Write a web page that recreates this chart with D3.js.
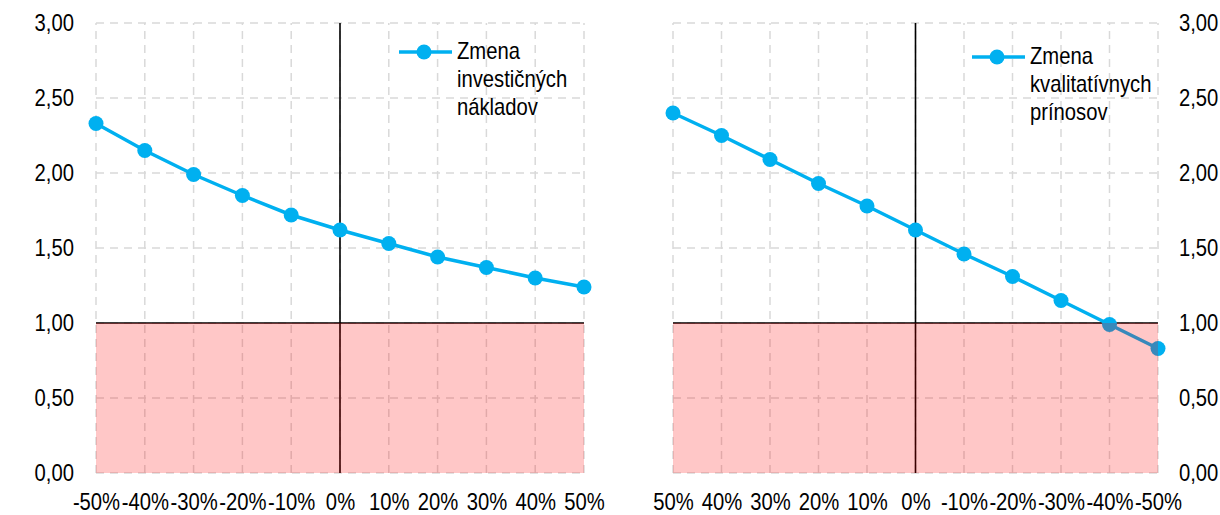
<!DOCTYPE html>
<html>
<head>
<meta charset="utf-8">
<script src="https://cdn.jsdelivr.net/npm/d3@7"></script>
<style>
  html, body { margin: 0; padding: 0; background: #fff; }
  svg { display: block; }
  text { font-family: "Liberation Sans", Arial, sans-serif; fill: #000; }
</style>
</head>
<body>
<svg id="chart" width="1220" height="515"></svg>
<script>
// ---- data ----
const leftCategories = ["-50%", "-40%", "-30%", "-20%", "-10%", "0%", "10%", "20%", "30%", "40%", "50%"];
const leftValues = [2.33, 2.15, 1.99, 1.85, 1.72, 1.62, 1.53, 1.44, 1.37, 1.30, 1.24];
const leftLegend = ["Zmena", "investičných", "nákladov"];

const rightCategories = ["50%", "40%", "30%", "20%", "10%", "0%", "-10%", "-20%", "-30%", "-40%", "-50%"];
const rightValues = [2.40, 2.25, 2.09, 1.93, 1.78, 1.62, 1.46, 1.31, 1.15, 0.99, 0.83];
const rightLegend = ["Zmena", "kvalitatívnych", "prínosov"];

const yTicks = [0, 0.5, 1, 1.5, 2, 2.5, 3];
const threshold = 1;
const zeroCategory = "0%";

// ---- style ----
const FS = 23, SX = 0.88;
const lineColor = "#00B0F0";
const gridColor = "#D9D9D9";
const fmt = d => d3.format(".2f")(d).replace(".", ",");

const svg = d3.select("#chart");

function panel(opts) {
  const x = d3.scalePoint().domain(opts.cats).range(opts.xRange);
  const y = d3.scaleLinear().domain([0, 3]).range([473, 23]);
  const g = svg.append("g");
  const [x0, x1] = opts.xRange;

  // gridlines
  g.append("g").selectAll("line.h").data(yTicks).join("line")
    .attr("x1", x0).attr("x2", x1)
    .attr("y1", d => y(d)).attr("y2", d => y(d))
    .attr("stroke", gridColor).attr("stroke-width", 1.5).attr("stroke-dasharray", "8,6");
  g.append("g").selectAll("line.v").data(opts.cats).join("line")
    .attr("x1", d => x(d)).attr("x2", d => x(d))
    .attr("y1", y(0)).attr("y2", y(3))
    .attr("stroke", gridColor).attr("stroke-width", 1.5).attr("stroke-dasharray", "8,6");

  // zero vertical line
  g.append("line")
    .attr("x1", x(zeroCategory)).attr("x2", x(zeroCategory))
    .attr("y1", y(0)).attr("y2", y(3))
    .attr("stroke", "#000").attr("stroke-width", 1.6);
  // threshold line
  g.append("line")
    .attr("x1", x0).attr("x2", x1)
    .attr("y1", y(threshold)).attr("y2", y(threshold))
    .attr("stroke", "#000").attr("stroke-width", 1.6);

  // series
  const pts = opts.cats.map((c, i) => ({ c, v: opts.values[i] }));
  g.append("path").datum(pts)
    .attr("fill", "none").attr("stroke", lineColor).attr("stroke-width", 3.5)
    .attr("d", d3.line().x(d => x(d.c)).y(d => y(d.v)));
  g.append("g").selectAll("circle").data(pts).join("circle")
    .attr("cx", d => x(d.c)).attr("cy", d => y(d.v)).attr("r", 7.5)
    .attr("fill", lineColor);

  // red zone overlay
  g.append("rect")
    .attr("x", x0).attr("width", x1 - x0)
    .attr("y", y(threshold)).attr("height", y(0) - y(threshold))
    .attr("fill", "rgb(255,0,0)").attr("fill-opacity", 0.22);

  // x axis
  const xa = g.append("g").attr("transform", `translate(0,${y(0)})`)
    .call(d3.axisBottom(x).tickSize(0).tickPadding(21));
  xa.select(".domain").remove();
  xa.selectAll("text").attr("font-size", FS).attr("font-family", null)
    .attr("transform", `scale(${SX},1)`).style("fill", "#000");

  // y axis
  if (opts.side === "left") {
    const ya = g.append("g").attr("transform", `translate(${x0},0)`)
      .call(d3.axisLeft(y).tickValues(yTicks).tickFormat(fmt).tickSize(0));
    ya.select(".domain").remove();
    ya.selectAll("text").attr("font-size", FS).attr("font-family", null)
      .attr("x", -22 / SX).attr("transform", `scale(${SX},1)`).style("fill", "#000");
  } else {
    const ya = g.append("g").attr("transform", `translate(${x1},0)`)
      .call(d3.axisRight(y).tickValues(yTicks).tickFormat(fmt).tickSize(0));
    ya.select(".domain").remove();
    ya.selectAll("text").attr("font-size", FS).attr("font-family", null)
      .attr("x", 21 / SX).attr("transform", `scale(${SX},1)`).style("fill", "#000");
  }

  // legend
  const lg = g.append("g").attr("transform", `translate(${opts.legend.x},${opts.legend.y})`);
  lg.append("line").attr("x1", 0).attr("x2", 53).attr("y1", 0).attr("y2", 0)
    .attr("stroke", lineColor).attr("stroke-width", 3.5);
  lg.append("circle").attr("cx", 25).attr("cy", 0).attr("r", 7.5).attr("fill", lineColor);
  lg.selectAll("text").data(opts.legendLines).join("text")
    .attr("transform", (d, i) => `translate(58,${7 + i * 28}) scale(${SX},1)`)
    .attr("font-size", FS)
    .text(d => d);
}

panel({ cats: leftCategories, values: leftValues, xRange: [96, 584], side: "left",
        legend: { x: 399, y: 52 }, legendLines: leftLegend });
panel({ cats: rightCategories, values: rightValues, xRange: [673, 1158], side: "right",
        legend: { x: 972, y: 57 }, legendLines: rightLegend });
</script>
</body>
</html>
